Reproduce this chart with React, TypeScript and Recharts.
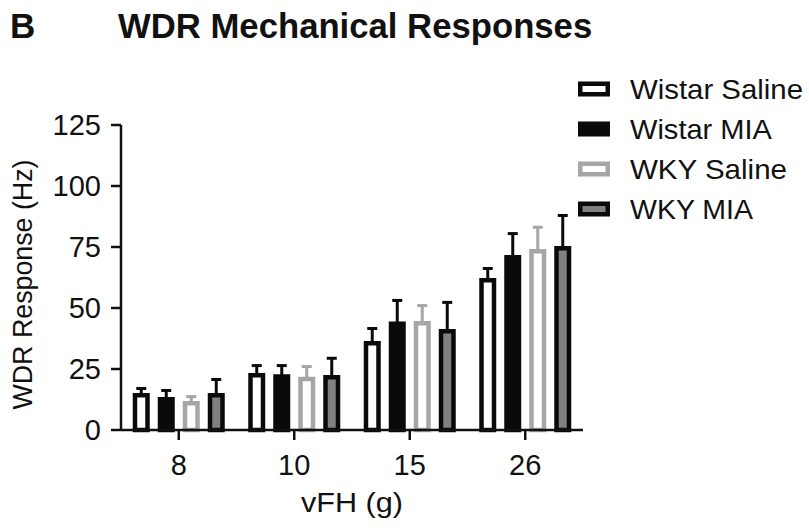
import React from "react";
import { BarChart, Bar, XAxis, YAxis, ErrorBar, Label } from "recharts";

// vFH force categories and per-group means / SEM (Hz)
const forces = ["8", "10", "15", "26"];
const wistarSaline = [14.2, 22.4, 35.6, 61.4];
const wistarSalineErr = [2.8, 4, 6, 4.8];
const wistarMia = [12.6, 21.9, 43.5, 70.8];
const wistarMiaErr = [3.6, 4.5, 9.6, 9.7];
const wkySaline = [11, 20.9, 43.8, 73.3];
const wkySalineErr = [2.7, 5.1, 7.2, 9.8];
const wkyMia = [14.2, 21.6, 40.5, 74.5];
const wkyMiaErr = [6.5, 7.8, 11.8, 13.4];
const yTicks = [0, 25, 50, 75, 100, 125];

const FONT = '"Liberation Sans", Arial, Helvetica, sans-serif';
const INK = "#0a0a0a";
const GREY = "#a6a6a6";
const MID = "#808080";

const series = [
  { key: "ws", name: "Wistar Saline", fill: "#ffffff", stroke: INK, len: 173 },
  { key: "wm", name: "Wistar MIA", fill: INK, stroke: INK, len: 142 },
  { key: "ks", name: "WKY Saline", fill: "#ffffff", stroke: GREY, len: 157 },
  { key: "km", name: "WKY MIA", fill: MID, stroke: INK, len: 123 },
];

// error bars only point up: [lower, upper]
const data = forces.map((f, i) => ({
  force: f,
  ws: wistarSaline[i],
  wsErr: [0, wistarSalineErr[i]],
  wm: wistarMia[i],
  wmErr: [0, wistarMiaErr[i]],
  ks: wkySaline[i],
  ksErr: [0, wkySalineErr[i]],
  km: wkyMia[i],
  kmErr: [0, wkyMiaErr[i]],
}));

const XTick = ({ x, y, payload }: any) => (
  <text x={x} y={y + 35} textAnchor="middle" fontSize={29} fontFamily={FONT} fill="#111">
    {payload.value}
  </text>
);

const YTick = ({ x, y, payload }: any) => (
  <text x={x} y={y + 10} textAnchor="end" fontSize={29} fontFamily={FONT} fill="#111">
    {payload.value}
  </text>
);

export default function App() {
  return (
    <div style={{ position: "absolute", left: 0, top: 0, width: 809, height: 531, background: "#fff" }}>
      <BarChart
        width={809}
        height={531}
        data={data}
        margin={{ top: 125, right: 226, bottom: 41, left: 50 }}
        barSize={12.5}
        barGap={12.5}
      >
        <XAxis
          dataKey="force"
          height={60}
          tick={<XTick />}
          tickSize={10}
          tickMargin={0}
          axisLine={{ stroke: "#111", strokeWidth: 2.5 }}
          tickLine={{ stroke: "#111", strokeWidth: 2.5 }}
        >
          <Label
            content={({ viewBox }: any) => (
              <text x={viewBox.x + viewBox.width / 2} y={viewBox.y + 82} textAnchor="middle"
                fontSize={28} fontFamily={FONT} fill="#111" textLength={102} lengthAdjust="spacingAndGlyphs">
                vFH (g)
              </text>
            )}
          />
        </XAxis>
        <YAxis
          width={71}
          domain={[0, 125]}
          ticks={yTicks}
          tick={<YTick />}
          tickSize={10}
          tickMargin={10}
          axisLine={{ stroke: "#111", strokeWidth: 2.5 }}
          tickLine={{ stroke: "#111", strokeWidth: 2.5 }}
        >
          <Label
            content={({ viewBox }: any) => {
              const cx = 32;
              const cy = viewBox.y + viewBox.height / 2 + 7;
              return (
                <text x={cx} y={cy} transform={`rotate(-90, ${cx}, ${cy})`} textAnchor="middle"
                  fontSize={27} fontFamily={FONT} fill="#111" textLength={250} lengthAdjust="spacingAndGlyphs">
                  WDR Response (Hz)
                </text>
              );
            }}
          />
        </YAxis>
        {series.map((s) => (
          <Bar key={s.key} dataKey={s.key} name={s.name} fill={s.fill} stroke={s.stroke}
            strokeWidth={4.5} isAnimationActive={false}>
            <ErrorBar dataKey={`${s.key}Err`} direction="y" width={5} stroke={s.stroke}
              strokeWidth={3} isAnimationActive={false} />
          </Bar>
        ))}
      </BarChart>

      <svg width={809} height={531} style={{ position: "absolute", left: 0, top: 0, pointerEvents: "none" }}>
        <text x={10} y={38} fontSize={35} fontWeight="bold" fontFamily={FONT} fill="#111">B</text>
        <text x={118} y={38} fontSize={34.7} fontWeight="bold" fontFamily={FONT} fill="#111">
          WDR Mechanical Responses
        </text>
        {series.map((s, i) => {
          const cy = 89 + i * 40;
          return (
            <g key={s.key}>
              <rect x={580.25} y={cy - 5.25} width={27.5} height={10.5} fill={s.fill}
                stroke={s.stroke} strokeWidth={4.5} />
              <text x={630} y={cy + 9.5} fontSize={27.5} fontFamily={FONT} fill="#111"
                textLength={s.len} lengthAdjust="spacingAndGlyphs">
                {s.name}
              </text>
            </g>
          );
        })}
      </svg>
    </div>
  );
}
